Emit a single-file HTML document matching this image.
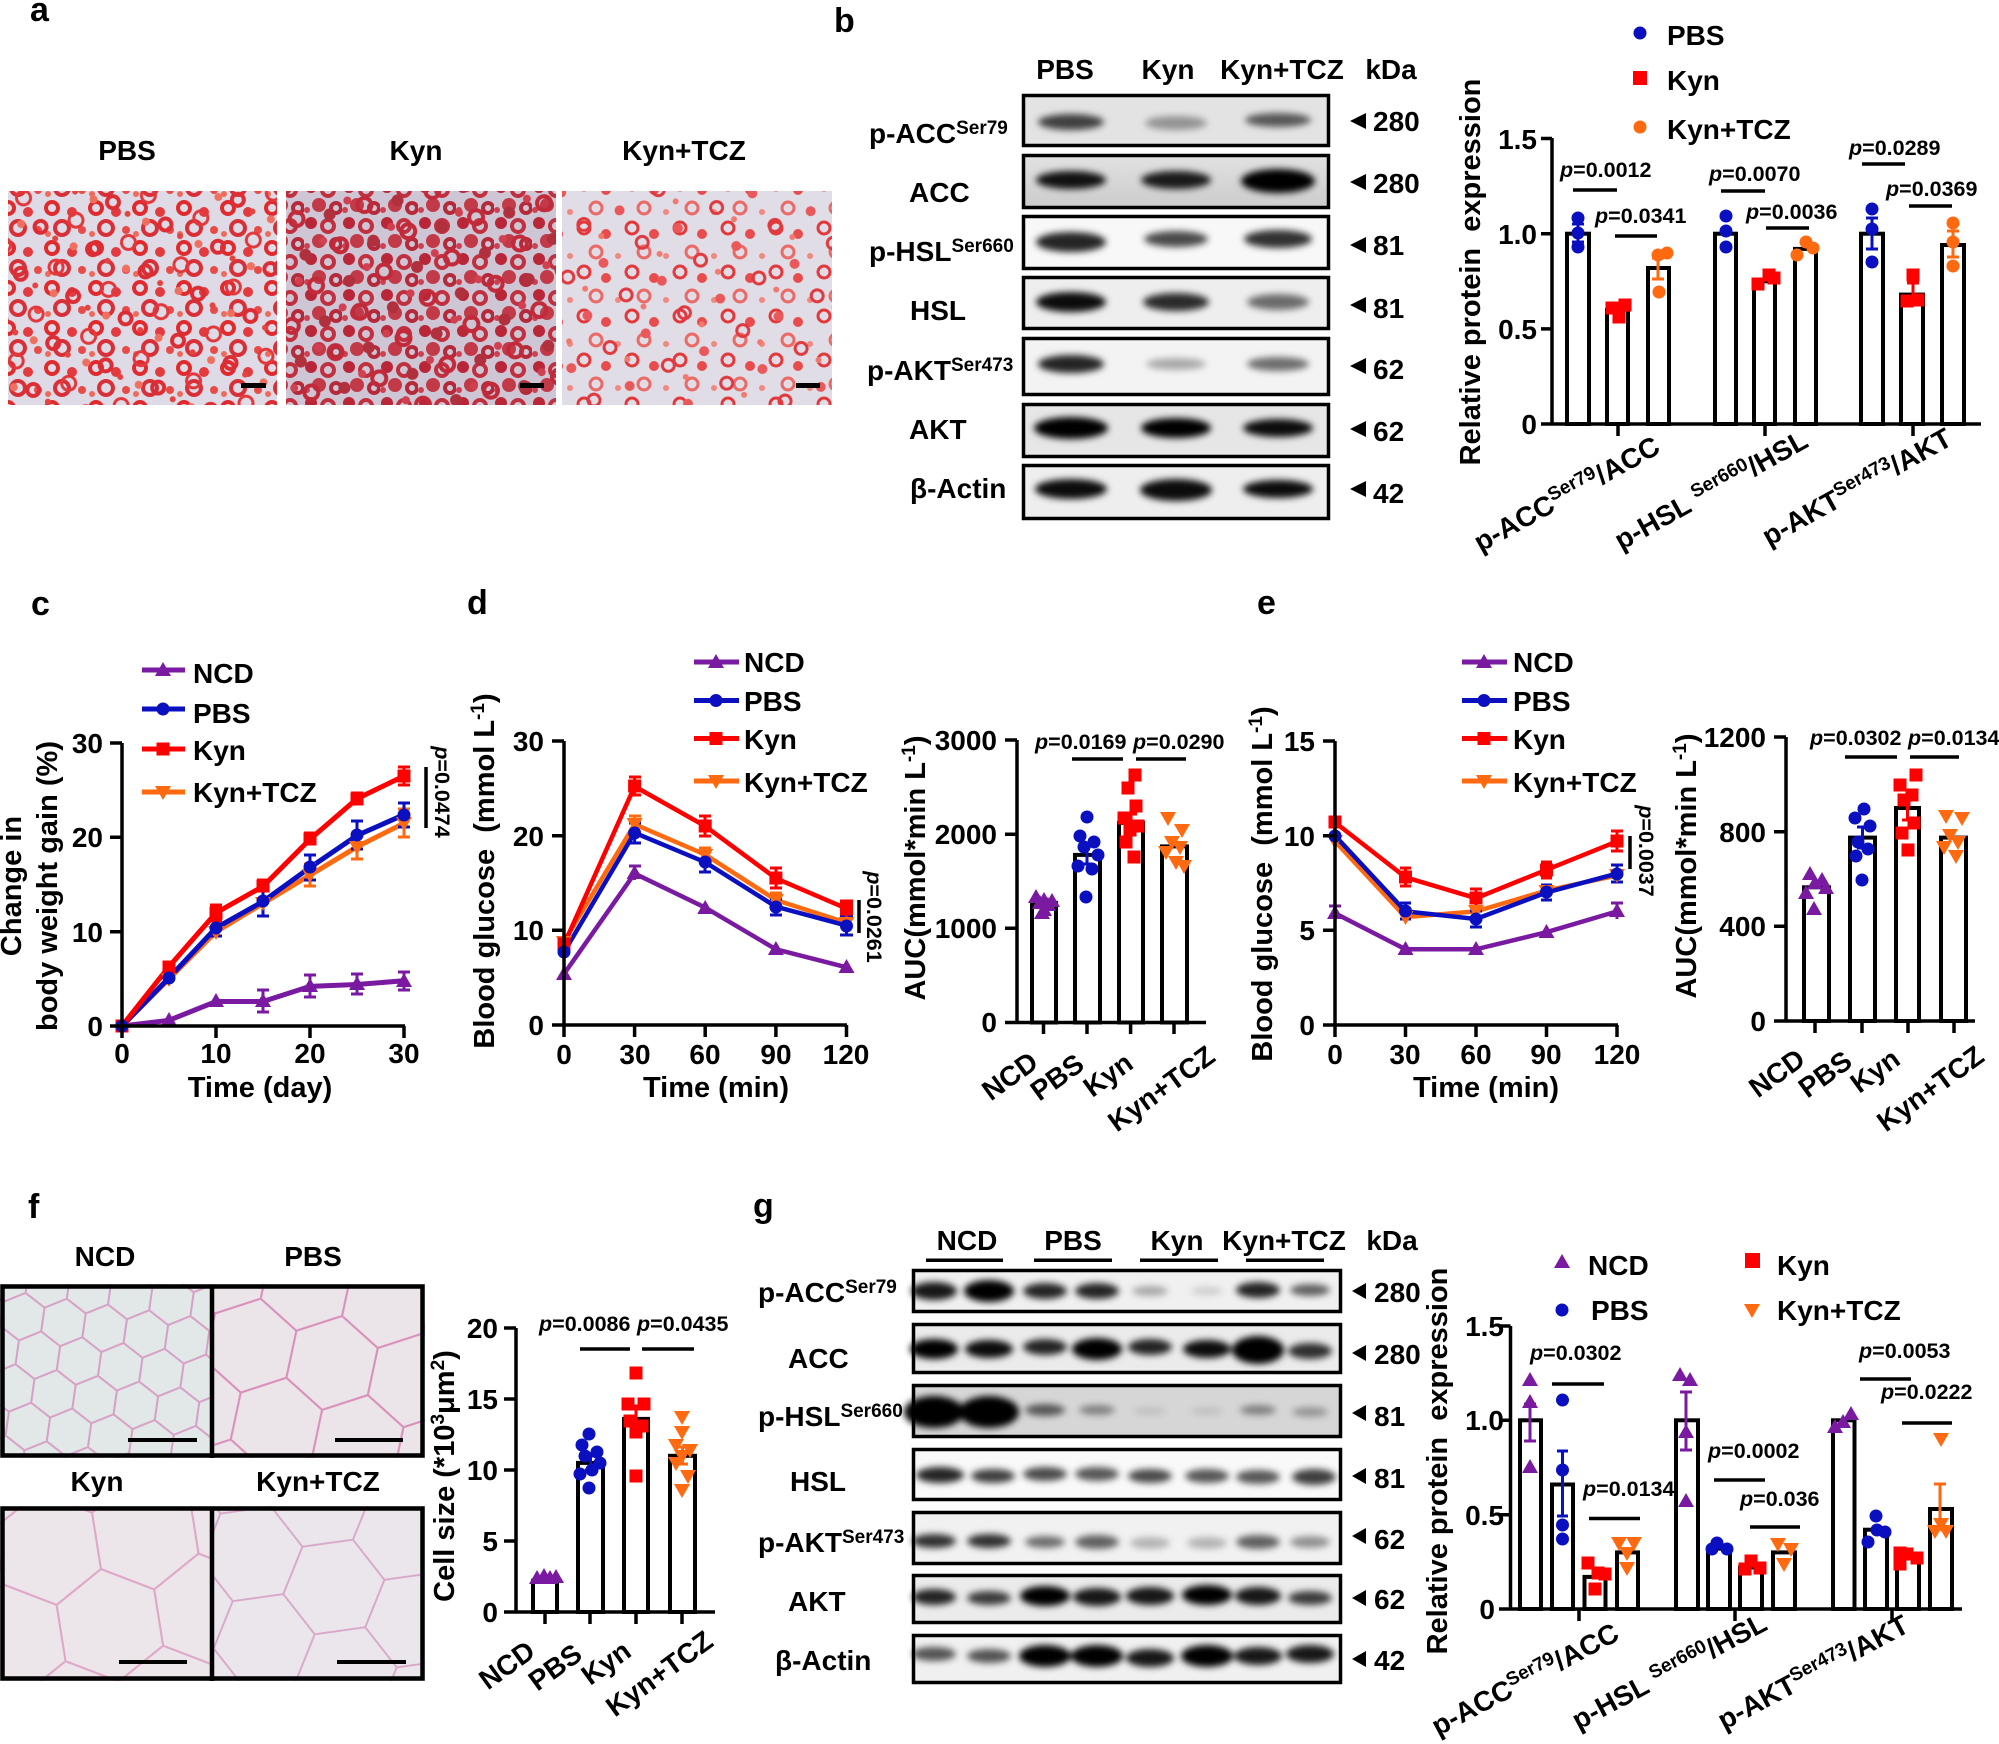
<!DOCTYPE html>
<html><head><meta charset="utf-8"><style>
html,body{margin:0;padding:0;background:#fff;}
svg{display:block;}
text{font-family:"Liberation Sans",Arial,sans-serif;font-weight:bold;fill:#000;}
.ax{fill:none;stroke:#000;stroke-width:3.5;}
.bar{fill:#fff;stroke:#000;stroke-width:4;}
.eb{fill:none;stroke-width:3;}
.sl{stroke:#000;stroke-width:3.5;}
</style></head><body>
<svg width="1999" height="1744" viewBox="0 0 1999 1744" xmlns="http://www.w3.org/2000/svg">
<defs>
<filter id="bl" x="-50%" y="-150%" width="200%" height="400%"><feGaussianBlur stdDeviation="3.5"/></filter>
<path id="tri" d="M0,-8 L8,6 L-8,6Z"/>
<path id="itri" d="M0,8 L8,-6 L-8,-6Z"/>
<rect id="sq" x="-6.5" y="-6.5" width="13" height="13"/>
<circle id="ci" r="6.5"/>
<linearGradient id="g2" x1="0" y1="0" x2="0" y2="1"><stop offset="0" stop-color="#e2e2e2"/><stop offset="1" stop-color="#cbcbcb"/></linearGradient>
<pattern id="pa1" width="44" height="40" patternUnits="userSpaceOnUse">
<circle cx="8" cy="8" r="6" fill="none" stroke="#e02a2e" stroke-width="4"/>
<circle cx="28" cy="12" r="5" fill="#e23a3e"/>
<circle cx="18" cy="28" r="7" fill="none" stroke="#d83038" stroke-width="4"/>
<circle cx="38" cy="30" r="4" fill="#e84a48"/>
<circle cx="4" cy="34" r="3" fill="#ee6a5a"/>
</pattern>
<pattern id="pa2" width="57" height="51" patternUnits="userSpaceOnUse" patternTransform="rotate(23)">
<circle cx="12" cy="40" r="6" fill="none" stroke="#dc2c34" stroke-width="4"/>
<circle cx="42" cy="20" r="7" fill="none" stroke="#e2383c" stroke-width="3"/>
<circle cx="30" cy="45" r="3" fill="#e34440"/>
<circle cx="50" cy="45" r="4" fill="#f07060"/>
</pattern>
<pattern id="pk1" width="38" height="36" patternUnits="userSpaceOnUse">
<circle cx="7" cy="7" r="6" fill="#b82638"/>
<circle cx="24" cy="10" r="6" fill="none" stroke="#c0303f" stroke-width="4"/>
<circle cx="15" cy="25" r="7" fill="#c23a48"/>
<circle cx="32" cy="28" r="5" fill="none" stroke="#b52a3a" stroke-width="4"/>
<circle cx="3" cy="30" r="3" fill="#cc4050"/>
</pattern>
<pattern id="pk2" width="51" height="47" patternUnits="userSpaceOnUse" patternTransform="rotate(31)">
<circle cx="10" cy="35" r="7" fill="none" stroke="#c22a3a" stroke-width="4"/>
<circle cx="36" cy="14" r="6" fill="#b0303e"/>
<circle cx="44" cy="40" r="4" fill="#d04050"/>
</pattern>
<pattern id="pt1" width="48" height="44" patternUnits="userSpaceOnUse">
<circle cx="8" cy="8" r="6" fill="none" stroke="#e23a3c" stroke-width="3"/>
<circle cx="30" cy="14" r="5" fill="#e84c4c"/>
<circle cx="20" cy="32" r="6" fill="none" stroke="#ea6a66" stroke-width="3"/>
<circle cx="42" cy="36" r="3" fill="#f08a80"/>
</pattern>
<pattern id="pt2" width="61" height="55" patternUnits="userSpaceOnUse" patternTransform="rotate(17)">
<circle cx="14" cy="44" r="6" fill="none" stroke="#df3a3f" stroke-width="3"/>
<circle cx="44" cy="20" r="5" fill="#e9585a"/>
<circle cx="34" cy="50" r="3" fill="#f07a70"/>
</pattern>
<pattern id="hexN" width="52" height="90" patternUnits="userSpaceOnUse" patternTransform="translate(5,1290) scale(0.8) rotate(8)">
<rect width="52" height="90" fill="#e2e8e8"/>
<path d="M26,0 L52,15 L52,45 L26,60 L0,45 L0,15 Z M26,60 L26,90" fill="none" stroke="#d6a0c4" stroke-width="2.5"/>
</pattern>
<pattern id="hexP" width="52" height="90" patternUnits="userSpaceOnUse" patternTransform="translate(220,1290) scale(1.6) rotate(12)">
<rect width="52" height="90" fill="#ebe5e9"/>
<path d="M26,0 L52,15 L52,45 L26,60 L0,45 L0,15 Z M26,60 L26,90" fill="none" stroke="#d98fb8" stroke-width="1.3"/>
</pattern>
<pattern id="hexK" width="52" height="90" patternUnits="userSpaceOnUse" patternTransform="translate(-10,1500) scale(1.9) rotate(-9)">
<rect width="52" height="90" fill="#ece6ea"/>
<path d="M26,0 L52,15 L52,45 L26,60 L0,45 L0,15 Z M26,60 L26,90" fill="none" stroke="#dfa6c6" stroke-width="1.1"/>
</pattern>
<pattern id="hexT" width="52" height="90" patternUnits="userSpaceOnUse" patternTransform="translate(230,1490) scale(1.7) rotate(22)">
<rect width="52" height="90" fill="#eae6ec"/>
<path d="M26,0 L52,15 L52,45 L26,60 L0,45 L0,15 Z M26,60 L26,90" fill="none" stroke="#d8a6c8" stroke-width="1.1"/>
</pattern>
</defs>

<!-- ============ PANEL A ============ -->
<text x="30" y="21" font-size="34">a</text>
<text x="127" y="160" font-size="28" text-anchor="middle">PBS</text>
<text x="416" y="160" font-size="28" text-anchor="middle">Kyn</text>
<text x="684" y="160" font-size="28" text-anchor="middle">Kyn+TCZ</text>
<rect x="8" y="191" width="269" height="214" fill="#dedbe6"/>
<rect x="8" y="191" width="269" height="214" fill="url(#pa1)"/>
<rect x="8" y="191" width="269" height="214" fill="url(#pa2)"/>
<rect x="286" y="191" width="270" height="214" fill="#cec6d4"/>
<rect x="286" y="191" width="270" height="214" fill="url(#pk1)"/>
<rect x="286" y="191" width="270" height="214" fill="url(#pk2)"/>
<rect x="562" y="191" width="270" height="214" fill="#e0dde7"/>
<rect x="562" y="191" width="270" height="214" fill="url(#pt1)"/>
<rect x="562" y="191" width="270" height="214" fill="url(#pt2)"/>
<rect x="241" y="383" width="25" height="5" fill="#000"/>
<rect x="520" y="383" width="24" height="5" fill="#000"/>
<rect x="796" y="383" width="24" height="5" fill="#000"/>

<!-- ============ PANEL B blot ============ -->
<text x="834" y="32" font-size="34">b</text>
<text x="1065" y="79" font-size="28" text-anchor="middle">PBS</text>
<text x="1168" y="79" font-size="28" text-anchor="middle">Kyn</text>
<text x="1282" y="79" font-size="28" text-anchor="middle">Kyn+TCZ</text>
<text x="1391" y="79" font-size="28" text-anchor="middle">kDa</text>

<rect x="1022" y="94" width="308" height="53" fill="#e3e3e3"/>
<rect x="1022" y="154" width="308" height="55" fill="url(#g2)"/>
<rect x="1022" y="215" width="308" height="55" fill="#f8f8f8"/>
<rect x="1022" y="276" width="308" height="54" fill="#eeeeee"/>
<rect x="1022" y="337" width="308" height="59" fill="#f3f3f3"/>
<rect x="1022" y="403" width="308" height="55" fill="#e6e6e6"/>
<rect x="1022" y="464" width="308" height="56" fill="#eeeeee"/>
<g filter="url(#bl)" fill="#000">
<ellipse cx="1071" cy="122" rx="33" ry="8" fill-opacity=".72"/>
<ellipse cx="1176" cy="123" rx="31" ry="7" fill-opacity=".35"/>
<ellipse cx="1278" cy="120" rx="33" ry="7" fill-opacity=".62"/>
<ellipse cx="1071" cy="180" rx="35" ry="9" fill-opacity=".92"/>
<ellipse cx="1176" cy="180" rx="35" ry="9" fill-opacity=".88"/>
<ellipse cx="1278" cy="181" rx="37" ry="12" fill-opacity="1"/>
<ellipse cx="1071" cy="242" rx="35" ry="10" fill-opacity=".85"/>
<ellipse cx="1176" cy="239" rx="32" ry="8" fill-opacity=".7"/>
<ellipse cx="1278" cy="239" rx="34" ry="9" fill-opacity=".8"/>
<ellipse cx="1071" cy="302" rx="35" ry="10" fill-opacity=".95"/>
<ellipse cx="1176" cy="302" rx="33" ry="9" fill-opacity=".82"/>
<ellipse cx="1278" cy="302" rx="31" ry="8" fill-opacity=".55"/>
<ellipse cx="1071" cy="364" rx="33" ry="9" fill-opacity=".85"/>
<ellipse cx="1176" cy="364" rx="30" ry="6" fill-opacity=".3"/>
<ellipse cx="1278" cy="364" rx="31" ry="7" fill-opacity=".55"/>
<ellipse cx="1071" cy="428" rx="37" ry="11" fill-opacity="1"/>
<ellipse cx="1176" cy="428" rx="35" ry="10" fill-opacity="1"/>
<ellipse cx="1278" cy="428" rx="35" ry="9" fill-opacity=".95"/>
<ellipse cx="1071" cy="489" rx="36" ry="10" fill-opacity=".95"/>
<ellipse cx="1176" cy="490" rx="36" ry="11" fill-opacity=".95"/>
<ellipse cx="1278" cy="489" rx="35" ry="9" fill-opacity=".95"/>
</g>
<g fill="none" stroke="#000" stroke-width="3.5">
<rect x="1023.5" y="95.5" width="305" height="50"/>
<rect x="1023.5" y="155.5" width="305" height="52"/>
<rect x="1023.5" y="216.5" width="305" height="52"/>
<rect x="1023.5" y="277.5" width="305" height="51"/>
<rect x="1023.5" y="338.5" width="305" height="56"/>
<rect x="1023.5" y="404.5" width="305" height="52"/>
<rect x="1023.5" y="465.5" width="305" height="53"/>
</g>
<g font-size="28">
<text x="869" y="143">p-ACC<tspan font-size="19" dy="-9">Ser79</tspan></text>
<text x="909" y="202">ACC</text>
<text x="869" y="261">p-HSL<tspan font-size="19" dy="-9">Ser660</tspan></text>
<text x="910" y="320">HSL</text>
<text x="867" y="380">p-AKT<tspan font-size="19" dy="-9">Ser473</tspan></text>
<text x="909" y="439">AKT</text>
<text x="910" y="498">β-Actin</text>
<text x="1373" y="131">280</text>
<text x="1373" y="193">280</text>
<text x="1373" y="255">81</text>
<text x="1373" y="318">81</text>
<text x="1373" y="379">62</text>
<text x="1373" y="441">62</text>
<text x="1373" y="503">42</text>
</g>
<g fill="#000">
<path d="M1350,121 L1366,113 L1366,129Z"/>
<path d="M1350,182 L1366,174 L1366,190Z"/>
<path d="M1350,245 L1366,237 L1366,253Z"/>
<path d="M1350,305 L1366,297 L1366,313Z"/>
<path d="M1350,366 L1366,358 L1366,374Z"/>
<path d="M1350,429 L1366,421 L1366,437Z"/>
<path d="M1350,489 L1366,481 L1366,497Z"/>
</g>

<!-- ============ PANEL B chart ============ -->
<use href="#ci" x="1640" y="33" fill="#0a10bf"/>
<rect x="1633" y="71" width="14" height="14" fill="#ff0000"/>
<use href="#ci" x="1640" y="127" fill="#ff6a10"/>
<text x="1667" y="45" font-size="28">PBS</text>
<text x="1667" y="90" font-size="28">Kyn</text>
<text x="1667" y="139" font-size="28">Kyn+TCZ</text>
<text transform="translate(1480,272) rotate(-90)" text-anchor="middle" font-size="29" style="white-space:pre">Relative protein  expression</text>
<g font-size="28" text-anchor="end">
<text x="1537" y="149">1.5</text><text x="1537" y="244">1.0</text><text x="1537" y="339">0.5</text><text x="1537" y="434">0</text>
</g>
<rect class="bar" x="1567" y="233.7" width="22" height="190.3"/>
<rect class="bar" x="1607" y="309.8" width="21" height="114.2"/>
<rect class="bar" x="1648" y="268" width="21" height="156"/>
<rect class="bar" x="1715" y="233.7" width="21" height="190.3"/>
<rect class="bar" x="1754" y="281.3" width="21" height="142.7"/>
<rect class="bar" x="1795" y="248.9" width="21" height="175.1"/>
<rect class="bar" x="1861" y="233.7" width="22" height="190.3"/>
<rect class="bar" x="1901" y="294.6" width="22" height="129.4"/>
<rect class="bar" x="1942" y="245" width="22" height="179"/>
<path class="ax" d="M1552,138 V424 H1981 M1541,138.5H1552 M1541,233.7H1552 M1541,328.9H1552 M1541,424H1552 M1618,424V436 M1765,424V436 M1913,424V436"/>
<g fill="#0a10bf"><use href="#ci" x="1578" y="218"/><use href="#ci" x="1578" y="233"/><use href="#ci" x="1578" y="247"/>
<use href="#ci" x="1726" y="216"/><use href="#ci" x="1726" y="231"/><use href="#ci" x="1726" y="247"/>
<use href="#ci" x="1872" y="209"/><use href="#ci" x="1872" y="229"/><use href="#ci" x="1872" y="262"/></g>
<g fill="#ff0000"><use href="#sq" x="1612" y="308"/><use href="#sq" x="1625" y="305"/><use href="#sq" x="1619" y="317"/>
<use href="#sq" x="1758" y="284"/><use href="#sq" x="1769" y="275"/><use href="#sq" x="1774" y="278"/>
<use href="#sq" x="1913" y="275"/><use href="#sq" x="1907" y="301"/><use href="#sq" x="1918" y="300"/></g>
<g fill="#ff6a10"><use href="#ci" x="1658" y="255"/><use href="#ci" x="1667" y="253"/><use href="#ci" x="1659" y="292"/>
<use href="#ci" x="1797" y="255"/><use href="#ci" x="1806" y="242"/><use href="#ci" x="1813" y="248"/>
<use href="#ci" x="1953" y="223"/><use href="#ci" x="1953" y="242"/><use href="#ci" x="1953" y="266"/></g>
<path class="eb" stroke="#0a10bf" d="M1578,224V242M1572,224H1584M1572,242H1584 M1872,218V249M1866,218H1878M1866,249H1878"/>
<path class="eb" stroke="#ff0000" d="M1913,283V301M1907,283H1919"/>
<path class="eb" stroke="#ff6a10" d="M1658,258V279M1652,258H1664M1652,279H1664 M1953,231V257M1947,231H1959M1947,257H1959"/>
<g font-size="21.5">
<text x="1560" y="177"><tspan font-style="italic">p</tspan>=0.0012</text>
<text x="1595" y="223"><tspan font-style="italic">p</tspan>=0.0341</text>
<text x="1709" y="181"><tspan font-style="italic">p</tspan>=0.0070</text>
<text x="1746" y="219"><tspan font-style="italic">p</tspan>=0.0036</text>
<text x="1849" y="155"><tspan font-style="italic">p</tspan>=0.0289</text>
<text x="1886" y="196"><tspan font-style="italic">p</tspan>=0.0369</text>
</g>
<path class="sl" d="M1573,190H1617 M1615,236H1657 M1721,191H1765 M1766,228H1809 M1862,164H1905 M1909,206H1952"/>
<g font-size="28" text-anchor="end">
<text transform="translate(1662,452) rotate(-29)">p-ACC<tspan font-size="19" dy="-10">Ser79</tspan><tspan dy="10">/ACC</tspan></text>
<text transform="translate(1810,446) rotate(-29)">p-HSL <tspan font-size="19" dy="-10">Ser660</tspan><tspan dy="10">/HSL</tspan></text>
<text transform="translate(1954,444) rotate(-29)">p-AKT<tspan font-size="19" dy="-10">Ser473</tspan><tspan dy="10">/AKT</tspan></text>
</g>

<!-- ============ PANEL C ============ -->
<text x="31" y="615" font-size="34">c</text>
<text transform="translate(21,886) rotate(-90)" text-anchor="middle" font-size="29">Change in</text>
<text transform="translate(57,886) rotate(-90)" text-anchor="middle" font-size="29">body weight gain (%)</text>
<g font-size="28" text-anchor="end"><text x="103" y="753">30</text><text x="103" y="847">20</text><text x="103" y="942">10</text><text x="103" y="1036">0</text></g>
<g font-size="28" text-anchor="middle"><text x="122" y="1063">0</text><text x="216" y="1063">10</text><text x="310" y="1063">20</text><text x="404" y="1063">30</text></g>
<text x="260" y="1097" font-size="29" text-anchor="middle">Time (day)</text>
<g stroke-width="5" fill="none">
<polyline stroke="#ff6a10" points="122,1026 169,978.8 216,931.7 263,903.4 310,875.1 357,846.8 404,823.2"/>
<polyline stroke="#0a10bf" points="122,1026 169,977.9 216,927.9 263,901.5 310,867.5 357,835.5 404,814.7"/>
<polyline stroke="#ff0000" points="122,1026 169,966.6 216,912.8 263,886.4 310,839.2 357,798.7 404,776"/>
<polyline stroke="#7a1aa0" points="122,1026 169,1020.3 216,1001.5 263,1001.5 310,986.4 357,984.5 404,980.7"/>
</g>
<path class="eb" stroke="#ff6a10" d="M310,864V886M304,864H316M304,886H316 M357,835V859M351,835H363M351,859H363 M404,809V837M398,809H410M398,837H410"/>
<path class="eb" stroke="#0a10bf" d="M216,920V936M210,920H222M210,936H222 M263,886V916M257,886H269M257,916H269 M310,855V880M304,855H316M304,880H316 M357,821V849M351,821H363M351,849H363 M404,803V827M398,803H410M398,827H410"/>
<path class="eb" stroke="#ff0000" d="M216,905V921M210,905H222M210,921H222 M263,880V892M257,880H269 M310,833V845M304,833H316 M357,793V805M351,793H363 M404,767V785M398,767H410M398,785H410"/>
<path class="eb" stroke="#7a1aa0" d="M263,990V1012M257,990H269M257,1012H269 M310,975V997M304,975H316M304,997H316 M357,974V994M351,974H363M351,994H363 M404,972V990M398,972H410M398,990H410"/>
<g fill="#ff6a10"><use href="#itri" x="169" y="979"/><use href="#itri" x="216" y="932"/><use href="#itri" x="263" y="903"/><use href="#itri" x="310" y="875"/><use href="#itri" x="357" y="847"/><use href="#itri" x="404" y="823"/></g>
<g fill="#ff0000"><use href="#sq" x="122" y="1026"/><use href="#sq" x="169" y="967"/><use href="#sq" x="216" y="913"/><use href="#sq" x="263" y="886"/><use href="#sq" x="310" y="839"/><use href="#sq" x="357" y="799"/><use href="#sq" x="404" y="776"/></g>
<g fill="#0a10bf"><use href="#ci" x="122" y="1026"/><use href="#ci" x="169" y="978"/><use href="#ci" x="216" y="928"/><use href="#ci" x="263" y="901"/><use href="#ci" x="310" y="867"/><use href="#ci" x="357" y="835"/><use href="#ci" x="404" y="815"/></g>
<g fill="#7a1aa0"><use href="#tri" x="169" y="1020"/><use href="#tri" x="216" y="1001"/><use href="#tri" x="263" y="1001"/><use href="#tri" x="310" y="986"/><use href="#tri" x="357" y="984"/><use href="#tri" x="404" y="981"/></g>
<path class="ax" d="M122,743 V1026 H405 M110,743H122 M110,931.7H122 M110,837.3H122 M110,1026H122 M122,1026V1038 M216,1026V1038 M310,1026V1038 M404,1026V1038"/>
<g stroke-width="5"><path stroke="#7a1aa0" d="M142,670H185"/><path stroke="#0a10bf" d="M142,709H185"/><path stroke="#ff0000" d="M142,749H185"/><path stroke="#ff6a10" d="M142,792H185"/></g>
<use href="#tri" x="163" y="670" fill="#7a1aa0"/><use href="#ci" x="163" y="709" fill="#0a10bf"/><use href="#sq" x="163" y="749" fill="#ff0000"/><use href="#itri" x="163" y="792" fill="#ff6a10"/>
<g font-size="28"><text x="193" y="683">NCD</text><text x="193" y="723">PBS</text><text x="193" y="760">Kyn</text><text x="193" y="802">Kyn+TCZ</text></g>
<path class="sl" d="M426,767V828"/>
<text transform="translate(435,792) rotate(90)" text-anchor="middle" font-size="21.5"><tspan font-style="italic">p</tspan>=0.0474</text>

<!-- ============ PANEL D ============ -->
<text x="467" y="614" font-size="34">d</text>
<text transform="translate(494,871) rotate(-90)" text-anchor="middle" font-size="29" style="white-space:pre">Blood glucose  (mmol L<tspan font-size="19" dy="-10">-1</tspan><tspan dy="10">)</tspan></text>
<g font-size="28" text-anchor="end"><text x="544" y="751">30</text><text x="544" y="846">20</text><text x="544" y="940">10</text><text x="544" y="1035">0</text></g>
<g font-size="28" text-anchor="middle"><text x="564" y="1064">0</text><text x="635" y="1064">30</text><text x="705" y="1064">60</text><text x="776" y="1064">90</text><text x="846" y="1064">120</text></g>
<text x="716" y="1097" font-size="29" text-anchor="middle">Time (min)</text>
<g stroke-width="4.5" fill="none">
<polyline stroke="#ff6a10" points="564,941.7 634.6,824.3 705.2,854.6 775.9,900 846.5,922.8"/>
<polyline stroke="#0a10bf" points="564,952.1 634.6,832.8 705.2,862.2 775.9,906.7 846.5,925.6"/>
<polyline stroke="#ff0000" points="564,944.5 634.6,786.4 705.2,826.2 775.9,878.3 846.5,908.6"/>
<polyline stroke="#7a1aa0" points="564,973.9 634.6,873.5 705.2,907.6 775.9,949.3 846.5,967.3"/>
</g>
<path class="eb" stroke="#ff6a10" d="M634.6,816V832M629,816H641 M705,848V861M699,848H711 M776,893V907M770,893H782"/>
<path class="eb" stroke="#0a10bf" d="M634.6,823V843M629,823H641M629,843H641 M705,852V872M699,852H711M699,872H711 M776,899V915M770,899H782M770,915H782 M846.5,917V935M840,917H853M840,935H853"/>
<path class="eb" stroke="#ff0000" d="M634.6,777V795M629,777H641M629,795H641 M705,816V836M699,816H711M699,836H711 M776,868V888M770,868H782M770,888H782 M846.5,901V917M840,901H853"/>
<path class="eb" stroke="#7a1aa0" d="M634.6,866V880M629,866H641"/>
<g fill="#ff6a10"><use href="#itri" x="564" y="942"/><use href="#itri" x="634.6" y="824"/><use href="#itri" x="705.2" y="855"/><use href="#itri" x="775.9" y="900"/><use href="#itri" x="846.5" y="923"/></g>
<g fill="#ff0000"><use href="#sq" x="564" y="944"/><use href="#sq" x="634.6" y="786"/><use href="#sq" x="705.2" y="826"/><use href="#sq" x="775.9" y="878"/><use href="#sq" x="846.5" y="909"/></g>
<g fill="#0a10bf"><use href="#ci" x="564" y="952"/><use href="#ci" x="634.6" y="833"/><use href="#ci" x="705.2" y="862"/><use href="#ci" x="775.9" y="907"/><use href="#ci" x="846.5" y="926"/></g>
<g fill="#7a1aa0"><use href="#tri" x="564" y="974"/><use href="#tri" x="634.6" y="873"/><use href="#tri" x="705.2" y="908"/><use href="#tri" x="775.9" y="949"/><use href="#tri" x="846.5" y="967"/></g>
<path class="ax" d="M564,741 V1025 H847 M552,741H564 M552,835.7H564 M552,930.3H564 M552,1025H564 M564,1025V1037 M634.6,1025V1037 M705.2,1025V1037 M775.9,1025V1037 M846.5,1025V1037"/>
<g stroke-width="5"><path stroke="#7a1aa0" d="M694,662H739"/><path stroke="#0a10bf" d="M694,700.5H739"/><path stroke="#ff0000" d="M694,738.5H739"/><path stroke="#ff6a10" d="M694,781H739"/></g>
<use href="#tri" x="716" y="662" fill="#7a1aa0"/><use href="#ci" x="716" y="700.5" fill="#0a10bf"/><use href="#sq" x="716" y="738.5" fill="#ff0000"/><use href="#itri" x="716" y="781" fill="#ff6a10"/>
<g font-size="28"><text x="744" y="672">NCD</text><text x="744" y="711">PBS</text><text x="744" y="749">Kyn</text><text x="744" y="792">Kyn+TCZ</text></g>
<path class="sl" d="M859,900V933"/>
<text transform="translate(867,917) rotate(90)" text-anchor="middle" font-size="21.5"><tspan font-style="italic">p</tspan>=0.0261</text>

<!-- D AUC -->
<text transform="translate(925,868) rotate(-90)" text-anchor="middle" font-size="29">AUC(mmol*min L<tspan font-size="19" dy="-10">-1</tspan><tspan dy="10">)</tspan></text>
<g font-size="28" text-anchor="end"><text x="997" y="750">3000</text><text x="997" y="844">2000</text><text x="997" y="938">1000</text><text x="997" y="1032">0</text></g>
<rect class="bar" x="1032" y="902.9" width="24" height="119.6"/>
<rect class="bar" x="1075" y="854.9" width="25" height="167.6"/>
<rect class="bar" x="1119" y="822.9" width="24" height="199.6"/>
<rect class="bar" x="1162" y="846.4" width="25" height="176.1"/>
<path class="ax" d="M1017,740 V1022.5 H1206 M1005,740H1017 M1005,834.3H1017 M1005,928.3H1017 M1005,1022.5H1017 M1043.5,1022.5V1034 M1087,1022.5V1034 M1130.6,1022.5V1034 M1174,1022.5V1034"/>
<g fill="#7a1aa0"><use href="#tri" x="1036" y="897"/><use href="#tri" x="1044" y="900"/><use href="#tri" x="1052" y="901"/><use href="#tri" x="1040" y="903"/><use href="#tri" x="1048" y="905"/><use href="#tri" x="1044" y="910"/><use href="#tri" x="1042" y="913"/></g>
<g fill="#0a10bf"><use href="#ci" x="1087" y="817"/><use href="#ci" x="1080" y="836"/><use href="#ci" x="1094" y="842"/><use href="#ci" x="1084" y="847"/><use href="#ci" x="1098" y="855"/><use href="#ci" x="1078" y="866"/><use href="#ci" x="1092" y="869"/><use href="#ci" x="1086" y="897"/></g>
<g fill="#ff0000"><use href="#sq" x="1135" y="775"/><use href="#sq" x="1128" y="788"/><use href="#sq" x="1136" y="806"/><use href="#sq" x="1124" y="818"/><use href="#sq" x="1138" y="826"/><use href="#sq" x="1130" y="830"/><use href="#sq" x="1126" y="842"/><use href="#sq" x="1134" y="857"/></g>
<g fill="#ff6a10"><use href="#itri" x="1168" y="818"/><use href="#itri" x="1182" y="830"/><use href="#itri" x="1172" y="842"/><use href="#itri" x="1180" y="847"/><use href="#itri" x="1166" y="852"/><use href="#itri" x="1176" y="862"/><use href="#itri" x="1184" y="866"/></g>
<path class="eb" stroke="#0a10bf" d="M1087,845V864M1081,845H1093M1081,864H1093"/>
<path class="eb" stroke="#ff0000" d="M1131,814V831M1125,814H1137M1125,831H1137"/>
<g font-size="21.5"><text x="1035" y="749"><tspan font-style="italic">p</tspan>=0.0169</text><text x="1133" y="749"><tspan font-style="italic">p</tspan>=0.0290</text></g>
<path class="sl" d="M1072,759H1123 M1136,759H1186"/>
<g font-size="28" text-anchor="end">
<text transform="translate(1040,1066) rotate(-36)">NCD</text>
<text transform="translate(1086,1068) rotate(-36)">PBS</text>
<text transform="translate(1135,1067) rotate(-36)">Kyn</text>
<text transform="translate(1217,1060) rotate(-36)">Kyn+TCZ</text>
</g>

<!-- ============ PANEL E ============ -->
<text x="1257" y="614" font-size="34">e</text>
<text transform="translate(1272,884) rotate(-90)" text-anchor="middle" font-size="29" style="white-space:pre">Blood glucose  (mmol L<tspan font-size="19" dy="-10">-1</tspan><tspan dy="10">)</tspan></text>
<g font-size="28" text-anchor="end"><text x="1315" y="751">15</text><text x="1315" y="846">10</text><text x="1315" y="940">5</text><text x="1315" y="1035">0</text></g>
<g font-size="28" text-anchor="middle"><text x="1335" y="1064">0</text><text x="1405" y="1064">30</text><text x="1476" y="1064">60</text><text x="1546" y="1064">90</text><text x="1617" y="1064">120</text></g>
<text x="1486" y="1097" font-size="29" text-anchor="middle">Time (min)</text>
<g stroke-width="4.5" fill="none">
<polyline stroke="#ff6a10" points="1335,841.4 1405.5,917.1 1476,911.4 1546.5,890.6 1617,875.4"/>
<polyline stroke="#0a10bf" points="1335,835.7 1405.5,911.4 1476,919 1546.5,892.5 1617,873.6"/>
<polyline stroke="#ff0000" points="1335,822.4 1405.5,877.3 1476,898.2 1546.5,869.8 1617,841.4"/>
<polyline stroke="#7a1aa0" points="1335,913.3 1405.5,949.3 1476,949.3 1546.5,932.2 1617,911.4"/>
</g>
<path class="eb" stroke="#0a10bf" d="M1405.5,903V919M1400,903H1411M1400,919H1411 M1476,911V927M1470,911H1482M1470,927H1482 M1546.5,885V900M1541,885H1552M1541,900H1552 M1617,865V882M1611,865H1623M1611,882H1623"/>
<path class="eb" stroke="#ff0000" d="M1405.5,868V886M1400,868H1411M1400,886H1411 M1476,889V907M1470,889H1482M1470,907H1482 M1546.5,862V878M1541,862H1552M1541,878H1552 M1617,831V851M1611,831H1623M1611,851H1623"/>
<path class="eb" stroke="#7a1aa0" d="M1335,906V920M1329,906H1341 M1617,903V919M1611,903H1623"/>
<g fill="#ff6a10"><use href="#itri" x="1335" y="841"/><use href="#itri" x="1405.5" y="917"/><use href="#itri" x="1476" y="911"/><use href="#itri" x="1546.5" y="891"/><use href="#itri" x="1617" y="875"/></g>
<g fill="#ff0000"><use href="#sq" x="1335" y="822"/><use href="#sq" x="1405.5" y="877"/><use href="#sq" x="1476" y="898"/><use href="#sq" x="1546.5" y="870"/><use href="#sq" x="1617" y="841"/></g>
<g fill="#0a10bf"><use href="#ci" x="1335" y="836"/><use href="#ci" x="1405.5" y="911"/><use href="#ci" x="1476" y="919"/><use href="#ci" x="1546.5" y="892"/><use href="#ci" x="1617" y="874"/></g>
<g fill="#7a1aa0"><use href="#tri" x="1335" y="913"/><use href="#tri" x="1405.5" y="949"/><use href="#tri" x="1476" y="949"/><use href="#tri" x="1546.5" y="932"/><use href="#tri" x="1617" y="911"/></g>
<path class="ax" d="M1335,741 V1025 H1618 M1323,741H1335 M1323,835.7H1335 M1323,930.3H1335 M1323,1025H1335 M1335,1025V1037 M1405.5,1025V1037 M1476,1025V1037 M1546.5,1025V1037 M1617,1025V1037"/>
<g stroke-width="5"><path stroke="#7a1aa0" d="M1462,662H1507"/><path stroke="#0a10bf" d="M1462,700.5H1507"/><path stroke="#ff0000" d="M1462,738.5H1507"/><path stroke="#ff6a10" d="M1462,781H1507"/></g>
<use href="#tri" x="1484" y="662" fill="#7a1aa0"/><use href="#ci" x="1484" y="700.5" fill="#0a10bf"/><use href="#sq" x="1484" y="738.5" fill="#ff0000"/><use href="#itri" x="1484" y="781" fill="#ff6a10"/>
<g font-size="28"><text x="1513" y="672">NCD</text><text x="1513" y="711">PBS</text><text x="1513" y="749">Kyn</text><text x="1513" y="792">Kyn+TCZ</text></g>
<path class="sl" d="M1630,836V869"/>
<text transform="translate(1639,851) rotate(90)" text-anchor="middle" font-size="21.5"><tspan font-style="italic">p</tspan>=0.0037</text>

<!-- E AUC -->
<text transform="translate(1696,866) rotate(-90)" text-anchor="middle" font-size="29">AUC(mmol*min L<tspan font-size="19" dy="-10">-1</tspan><tspan dy="10">)</tspan></text>
<g font-size="28" text-anchor="end"><text x="1766" y="747">1200</text><text x="1766" y="842">800</text><text x="1766" y="936">400</text><text x="1766" y="1031">0</text></g>
<rect class="bar" x="1804" y="887.3" width="25" height="133.7"/>
<rect class="bar" x="1850" y="837.6" width="25" height="183.4"/>
<rect class="bar" x="1896" y="808" width="23" height="213"/>
<rect class="bar" x="1941" y="837.6" width="25" height="183.4"/>
<path class="ax" d="M1786,737 V1021 H1975 M1774,737H1786 M1774,831.7H1786 M1774,926.3H1786 M1774,1021H1786 M1815,1021V1033 M1862,1021V1033 M1908,1021V1033 M1954,1021V1033"/>
<g fill="#7a1aa0"><use href="#tri" x="1810" y="874"/><use href="#tri" x="1822" y="880"/><use href="#tri" x="1815" y="883"/><use href="#tri" x="1826" y="888"/><use href="#tri" x="1806" y="893"/><use href="#tri" x="1814" y="909"/></g>
<g fill="#0a10bf"><use href="#ci" x="1864" y="809"/><use href="#ci" x="1855" y="818"/><use href="#ci" x="1870" y="826"/><use href="#ci" x="1858" y="842"/><use href="#ci" x="1868" y="849"/><use href="#ci" x="1856" y="856"/><use href="#ci" x="1862" y="880"/></g>
<g fill="#ff0000"><use href="#sq" x="1916" y="775"/><use href="#sq" x="1900" y="785"/><use href="#sq" x="1912" y="795"/><use href="#sq" x="1904" y="800"/><use href="#sq" x="1914" y="823"/><use href="#sq" x="1902" y="833"/><use href="#sq" x="1908" y="850"/></g>
<g fill="#ff6a10"><use href="#itri" x="1946" y="816"/><use href="#itri" x="1962" y="818"/><use href="#itri" x="1950" y="835"/><use href="#itri" x="1958" y="842"/><use href="#itri" x="1944" y="847"/><use href="#itri" x="1956" y="856"/></g>
<path class="eb" stroke="#0a10bf" d="M1862.5,827V848M1857,827H1868M1857,848H1868"/>
<path class="eb" stroke="#ff0000" d="M1907.5,796V820M1902,796H1913M1902,820H1913"/>
<g font-size="21.5"><text x="1810" y="745"><tspan font-style="italic">p</tspan>=0.0302</text><text x="1908" y="745"><tspan font-style="italic">p</tspan>=0.0134</text></g>
<path class="sl" d="M1845,757H1897 M1910,757H1959"/>
<g font-size="28" text-anchor="end">
<text transform="translate(1807,1063) rotate(-36)">NCD</text>
<text transform="translate(1854,1065) rotate(-36)">PBS</text>
<text transform="translate(1902,1063) rotate(-36)">Kyn</text>
<text transform="translate(1986,1060) rotate(-36)">Kyn+TCZ</text>
</g>

<!-- ============ PANEL F ============ -->
<text x="28" y="1218" font-size="34">f</text>
<g font-size="28" text-anchor="middle"><text x="105" y="1266">NCD</text><text x="313" y="1266">PBS</text><text x="97" y="1491">Kyn</text><text x="318" y="1491">Kyn+TCZ</text></g>
<rect x="0" y="1284" width="212" height="174" fill="url(#hexN)"/>
<rect x="212" y="1284" width="213" height="174" fill="url(#hexP)"/>
<rect x="0" y="1506" width="212" height="175" fill="url(#hexK)"/>
<rect x="212" y="1506" width="213" height="175" fill="url(#hexT)"/>
<g fill="none" stroke="#000" stroke-width="4.5">
<rect x="2.5" y="1286.5" width="420" height="169"/><path d="M212,1286V1458"/>
<rect x="2.5" y="1508.5" width="420" height="170"/><path d="M212,1508V1681"/>
</g>
<g fill="#000"><rect x="128" y="1438" width="69" height="4"/><rect x="335" y="1438" width="68" height="4"/><rect x="119" y="1660" width="68" height="4"/><rect x="337" y="1660" width="69" height="4"/></g>
<text transform="translate(454,1476) rotate(-90)" text-anchor="middle" font-size="29">Cell size (*10<tspan font-size="19" dy="-10">3</tspan><tspan dy="10">μm</tspan><tspan font-size="19" dy="-10">2</tspan><tspan dy="10">)</tspan></text>
<g font-size="28" text-anchor="end"><text x="498" y="1338">20</text><text x="498" y="1409">15</text><text x="498" y="1480">10</text><text x="498" y="1551">5</text><text x="498" y="1622">0</text></g>
<rect class="bar" x="533" y="1580.8" width="24" height="31.2"/>
<rect class="bar" x="578" y="1462.9" width="25" height="149.1"/>
<rect class="bar" x="624" y="1418.9" width="24" height="193.1"/>
<rect class="bar" x="670" y="1455.8" width="25" height="156.2"/>
<path class="ax" d="M516,1328 V1612 H715 M504,1328H516 M504,1399H516 M504,1470H516 M504,1541H516 M504,1612H516 M545,1612V1624 M590,1612V1624 M636,1612V1624 M682,1612V1624"/>
<g fill="#7a1aa0"><use href="#tri" x="537" y="1578"/><use href="#tri" x="544" y="1576"/><use href="#tri" x="550" y="1578"/><use href="#tri" x="556" y="1577"/></g>
<g fill="#0a10bf"><use href="#ci" x="589" y="1434"/><use href="#ci" x="582" y="1445"/><use href="#ci" x="597" y="1452"/><use href="#ci" x="585" y="1456"/><use href="#ci" x="600" y="1463"/><use href="#ci" x="592" y="1470"/><use href="#ci" x="580" y="1474"/><use href="#ci" x="589" y="1488"/></g>
<g fill="#ff0000"><use href="#sq" x="636" y="1373"/><use href="#sq" x="628" y="1404"/><use href="#sq" x="644" y="1404"/><use href="#sq" x="630" y="1421"/><use href="#sq" x="642" y="1426"/><use href="#sq" x="636" y="1432"/><use href="#sq" x="636" y="1476"/></g>
<g fill="#ff6a10"><use href="#itri" x="682" y="1417"/><use href="#itri" x="682" y="1432"/><use href="#itri" x="676" y="1445"/><use href="#itri" x="690" y="1450"/><use href="#itri" x="682" y="1456"/><use href="#itri" x="676" y="1463"/><use href="#itri" x="688" y="1476"/><use href="#itri" x="682" y="1490"/></g>
<path class="eb" stroke="#0a10bf" d="M590.5,1456V1470M585,1456H596M585,1470H596"/>
<path class="eb" stroke="#ff0000" d="M636,1406V1432M630,1406H642M630,1432H642"/>
<path class="eb" stroke="#ff6a10" d="M682.5,1447V1464M677,1447H688M677,1464H688"/>
<g font-size="21.5"><text x="539" y="1331"><tspan font-style="italic">p</tspan>=0.0086</text><text x="637" y="1331"><tspan font-style="italic">p</tspan>=0.0435</text></g>
<path class="sl" d="M580,1349H630 M642,1349H694"/>
<g font-size="28" text-anchor="end">
<text transform="translate(537,1655) rotate(-36)">NCD</text>
<text transform="translate(584,1658) rotate(-36)">PBS</text>
<text transform="translate(633,1655) rotate(-36)">Kyn</text>
<text transform="translate(715,1645) rotate(-36)">Kyn+TCZ</text>
</g>

<!-- ============ PANEL G blot ============ -->
<text x="753" y="1217" font-size="34">g</text>
<g font-size="28" text-anchor="middle"><text x="967" y="1250">NCD</text><text x="1073" y="1250">PBS</text><text x="1177" y="1250">Kyn</text><text x="1284" y="1250">Kyn+TCZ</text><text x="1392" y="1250">kDa</text></g>
<g fill="#000"><rect x="926" y="1258.5" width="77" height="3.5"/><rect x="1034" y="1258.5" width="78" height="3.5"/><rect x="1140" y="1258.5" width="78" height="3.5"/><rect x="1246" y="1258.5" width="78" height="3.5"/></g>
<rect x="912" y="1269" width="430" height="44" fill="#f0f0f0"/>
<rect x="912" y="1323" width="430" height="51" fill="#ebebeb"/>
<rect x="912" y="1384" width="430" height="54" fill="#d6d6d6"/>
<rect x="912" y="1448" width="430" height="53" fill="#f9f9f9"/>
<rect x="912" y="1511" width="430" height="54" fill="#f1f1f1"/>
<rect x="912" y="1574" width="430" height="50" fill="#ebebeb"/>
<rect x="912" y="1634" width="430" height="50" fill="#f0f0f0"/>
<g filter="url(#bl)" fill="#000">
<ellipse cx="934" cy="1291" rx="23" ry="9" fill-opacity=".9"/><ellipse cx="989" cy="1291" rx="25" ry="11" fill-opacity="1"/><ellipse cx="1045" cy="1291" rx="22" ry="8" fill-opacity=".85"/><ellipse cx="1097" cy="1291" rx="22" ry="8" fill-opacity=".85"/><ellipse cx="1150" cy="1291" rx="18" ry="5" fill-opacity=".3"/><ellipse cx="1207" cy="1291" rx="16" ry="4" fill-opacity=".15"/><ellipse cx="1258" cy="1290" rx="22" ry="8" fill-opacity=".85"/><ellipse cx="1310" cy="1290" rx="20" ry="6" fill-opacity=".6"/>
<ellipse cx="934" cy="1349" rx="24" ry="10" fill-opacity="1"/><ellipse cx="989" cy="1349" rx="24" ry="9" fill-opacity=".95"/><ellipse cx="1045" cy="1347" rx="22" ry="8" fill-opacity=".85"/><ellipse cx="1097" cy="1349" rx="25" ry="11" fill-opacity="1"/><ellipse cx="1150" cy="1347" rx="22" ry="8" fill-opacity=".85"/><ellipse cx="1207" cy="1349" rx="24" ry="9" fill-opacity=".95"/><ellipse cx="1258" cy="1350" rx="26" ry="14" fill-opacity="1"/><ellipse cx="1310" cy="1351" rx="22" ry="8" fill-opacity=".8"/>
<ellipse cx="934" cy="1412" rx="30" ry="16" fill-opacity="1"/><ellipse cx="989" cy="1412" rx="30" ry="16" fill-opacity="1"/><ellipse cx="1045" cy="1410" rx="20" ry="6" fill-opacity=".6"/><ellipse cx="1097" cy="1410" rx="18" ry="5" fill-opacity=".4"/><ellipse cx="1150" cy="1411" rx="16" ry="4" fill-opacity=".1"/><ellipse cx="1207" cy="1411" rx="16" ry="4" fill-opacity=".1"/><ellipse cx="1258" cy="1410" rx="18" ry="5" fill-opacity=".4"/><ellipse cx="1310" cy="1412" rx="18" ry="5" fill-opacity=".3"/>
<ellipse cx="940" cy="1475" rx="24" ry="8" fill-opacity=".85"/><ellipse cx="993" cy="1476" rx="22" ry="7" fill-opacity=".75"/><ellipse cx="1045" cy="1474" rx="22" ry="7" fill-opacity=".7"/><ellipse cx="1097" cy="1474" rx="22" ry="7" fill-opacity=".65"/><ellipse cx="1150" cy="1476" rx="22" ry="7" fill-opacity=".7"/><ellipse cx="1207" cy="1476" rx="22" ry="7" fill-opacity=".65"/><ellipse cx="1258" cy="1477" rx="22" ry="7" fill-opacity=".65"/><ellipse cx="1314" cy="1477" rx="22" ry="8" fill-opacity=".75"/>
<ellipse cx="934" cy="1541" rx="22" ry="7" fill-opacity=".8"/><ellipse cx="989" cy="1541" rx="22" ry="7" fill-opacity=".8"/><ellipse cx="1045" cy="1542" rx="20" ry="6" fill-opacity=".55"/><ellipse cx="1097" cy="1542" rx="22" ry="7" fill-opacity=".6"/><ellipse cx="1150" cy="1543" rx="20" ry="6" fill-opacity=".25"/><ellipse cx="1207" cy="1543" rx="20" ry="6" fill-opacity=".25"/><ellipse cx="1258" cy="1542" rx="22" ry="7" fill-opacity=".6"/><ellipse cx="1310" cy="1542" rx="20" ry="6" fill-opacity=".4"/>
<ellipse cx="934" cy="1597" rx="22" ry="8" fill-opacity=".85"/><ellipse cx="989" cy="1598" rx="22" ry="7" fill-opacity=".75"/><ellipse cx="1045" cy="1596" rx="25" ry="10" fill-opacity="1"/><ellipse cx="1097" cy="1597" rx="24" ry="9" fill-opacity=".9"/><ellipse cx="1150" cy="1596" rx="24" ry="9" fill-opacity=".9"/><ellipse cx="1207" cy="1595" rx="25" ry="10" fill-opacity="1"/><ellipse cx="1258" cy="1596" rx="23" ry="9" fill-opacity=".9"/><ellipse cx="1310" cy="1598" rx="22" ry="7" fill-opacity=".75"/>
<ellipse cx="934" cy="1654" rx="22" ry="7" fill-opacity=".65"/><ellipse cx="989" cy="1656" rx="22" ry="7" fill-opacity=".65"/><ellipse cx="1045" cy="1656" rx="26" ry="11" fill-opacity="1"/><ellipse cx="1097" cy="1656" rx="26" ry="11" fill-opacity="1"/><ellipse cx="1150" cy="1658" rx="24" ry="9" fill-opacity=".9"/><ellipse cx="1207" cy="1656" rx="26" ry="11" fill-opacity="1"/><ellipse cx="1258" cy="1656" rx="24" ry="9" fill-opacity=".9"/><ellipse cx="1310" cy="1654" rx="24" ry="9" fill-opacity=".9"/>
</g>
<g fill="none" stroke="#000" stroke-width="3.5">
<rect x="913.5" y="1270.5" width="427" height="41"/>
<rect x="913.5" y="1324.5" width="427" height="48"/>
<rect x="913.5" y="1385.5" width="427" height="51"/>
<rect x="913.5" y="1449.5" width="427" height="50"/>
<rect x="913.5" y="1512.5" width="427" height="51"/>
<rect x="913.5" y="1575.5" width="427" height="47"/>
<rect x="913.5" y="1635.5" width="427" height="47"/>
</g>
<g font-size="28">
<text x="758" y="1302">p-ACC<tspan font-size="19" dy="-9">Ser79</tspan></text>
<text x="788" y="1368">ACC</text>
<text x="758" y="1426">p-HSL<tspan font-size="19" dy="-9">Ser660</tspan></text>
<text x="790" y="1491">HSL</text>
<text x="758" y="1552">p-AKT<tspan font-size="19" dy="-9">Ser473</tspan></text>
<text x="788" y="1611">AKT</text>
<text x="775" y="1670">β-Actin</text>
<text x="1374" y="1302">280</text>
<text x="1374" y="1364">280</text>
<text x="1374" y="1426">81</text>
<text x="1374" y="1488">81</text>
<text x="1374" y="1549">62</text>
<text x="1374" y="1609">62</text>
<text x="1374" y="1670">42</text>
</g>
<g fill="#000">
<path d="M1352,1291 L1366,1283 L1366,1299Z"/>
<path d="M1352,1353 L1366,1345 L1366,1361Z"/>
<path d="M1352,1413 L1366,1405 L1366,1421Z"/>
<path d="M1352,1476 L1366,1468 L1366,1484Z"/>
<path d="M1352,1536 L1366,1528 L1366,1544Z"/>
<path d="M1352,1598 L1366,1590 L1366,1606Z"/>
<path d="M1352,1659 L1366,1651 L1366,1667Z"/>
</g>

<!-- ============ PANEL G chart ============ -->
<use href="#tri" x="1562" y="1262" fill="#7a1aa0"/>
<use href="#ci" x="1562" y="1310" fill="#0a10bf"/>
<rect x="1745" y="1253" width="15" height="15" fill="#ff0000"/>
<use href="#itri" x="1752" y="1310" fill="#ff6a10"/>
<g font-size="28"><text x="1588" y="1275">NCD</text><text x="1591" y="1320">PBS</text><text x="1777" y="1275">Kyn</text><text x="1777" y="1320">Kyn+TCZ</text></g>
<text transform="translate(1447,1461) rotate(-90)" text-anchor="middle" font-size="29" style="white-space:pre">Relative protein  expression</text>
<g font-size="28" text-anchor="end"><text x="1504" y="1336">1.5</text><text x="1504" y="1430">1.0</text><text x="1504" y="1525">0.5</text><text x="1495" y="1619">0</text></g>
<rect class="bar" x="1520" y="1420.3" width="21" height="188.7"/>
<rect class="bar" x="1552" y="1484.5" width="21" height="124.5"/>
<rect class="bar" x="1584.5" y="1576.9" width="21" height="32.1"/>
<rect class="bar" x="1617" y="1552.4" width="21" height="56.6"/>
<rect class="bar" x="1676" y="1420.3" width="22" height="188.7"/>
<rect class="bar" x="1708" y="1548.6" width="22" height="60.4"/>
<rect class="bar" x="1740" y="1567.5" width="22" height="41.5"/>
<rect class="bar" x="1773" y="1552.4" width="22" height="56.6"/>
<rect class="bar" x="1833" y="1420.3" width="21.5" height="188.7"/>
<rect class="bar" x="1865" y="1529.7" width="22" height="79.3"/>
<rect class="bar" x="1897" y="1558.1" width="22" height="50.9"/>
<rect class="bar" x="1930" y="1509" width="22" height="100"/>
<path class="ax" d="M1510.5,1326 V1609 H1962 M1499,1326H1510.5 M1499,1420.3H1510.5 M1499,1514.7H1510.5 M1499,1609H1510.5 M1579,1609V1621 M1735,1609V1621 M1892,1609V1621"/>
<g fill="#7a1aa0"><use href="#tri" x="1530" y="1380"/><use href="#tri" x="1530" y="1402"/><use href="#tri" x="1530" y="1467"/>
<use href="#tri" x="1680" y="1375"/><use href="#tri" x="1690" y="1380"/><use href="#tri" x="1686" y="1432"/><use href="#tri" x="1686" y="1501"/>
<use href="#tri" x="1835" y="1427"/><use href="#tri" x="1843" y="1422"/><use href="#tri" x="1851" y="1414"/></g>
<g fill="#0a10bf"><use href="#ci" x="1562.5" y="1400"/><use href="#ci" x="1562.5" y="1470"/><use href="#ci" x="1562.5" y="1525"/><use href="#ci" x="1562.5" y="1539"/>
<use href="#ci" x="1712" y="1549"/><use href="#ci" x="1717" y="1543"/><use href="#ci" x="1727" y="1549"/>
<use href="#ci" x="1868" y="1542"/><use href="#ci" x="1876" y="1516"/><use href="#ci" x="1877" y="1530"/><use href="#ci" x="1885" y="1532"/></g>
<g fill="#ff0000"><use href="#sq" x="1588" y="1563"/><use href="#sq" x="1605" y="1574"/><use href="#sq" x="1598" y="1573"/><use href="#sq" x="1595" y="1589"/>
<use href="#sq" x="1745" y="1569"/><use href="#sq" x="1751" y="1561"/><use href="#sq" x="1760" y="1568"/>
<use href="#sq" x="1900" y="1564"/><use href="#sq" x="1907" y="1554"/><use href="#sq" x="1917" y="1558"/><use href="#sq" x="1900" y="1553"/></g>
<g fill="#ff6a10"><use href="#itri" x="1619" y="1543"/><use href="#itri" x="1634" y="1543"/><use href="#itri" x="1627" y="1553"/><use href="#itri" x="1627" y="1568"/>
<use href="#itri" x="1778" y="1544"/><use href="#itri" x="1791" y="1549"/><use href="#itri" x="1784" y="1564"/>
<use href="#itri" x="1941" y="1439"/><use href="#itri" x="1935" y="1531"/><use href="#itri" x="1946" y="1531"/><use href="#itri" x="1941" y="1524"/></g>
<path class="eb" stroke="#7a1aa0" d="M1530,1404V1441M1524,1404H1536M1524,1441H1536 M1686,1392V1450M1680,1392H1692M1680,1450H1692"/>
<path class="eb" stroke="#0a10bf" d="M1562.5,1451V1516M1557,1451H1568M1557,1516H1568"/>
<path class="eb" stroke="#ff6a10" d="M1940,1484V1529M1934,1484H1946"/>
<g font-size="21.5">
<text x="1530" y="1360"><tspan font-style="italic">p</tspan>=0.0302</text>
<text x="1583" y="1496"><tspan font-style="italic">p</tspan>=0.0134</text>
<text x="1708" y="1458"><tspan font-style="italic">p</tspan>=0.0002</text>
<text x="1740" y="1506"><tspan font-style="italic">p</tspan>=0.036</text>
<text x="1859" y="1358"><tspan font-style="italic">p</tspan>=0.0053</text>
<text x="1881" y="1399"><tspan font-style="italic">p</tspan>=0.0222</text>
</g>
<path class="sl" d="M1552,1384H1604 M1589,1518.5H1640 M1714,1480H1765 M1750,1527H1800 M1860,1379H1911 M1902,1423H1952"/>
<g font-size="28" text-anchor="end">
<text transform="translate(1621,1639) rotate(-28)">p-ACC<tspan font-size="19" dy="-10">Ser79</tspan><tspan dy="10">/ACC</tspan></text>
<text transform="translate(1769,1629) rotate(-28)">p-HSL <tspan font-size="19" dy="-10">Ser660</tspan><tspan dy="10">/HSL</tspan></text>
<text transform="translate(1911,1631) rotate(-28)">p-AKT<tspan font-size="19" dy="-10">Ser473</tspan><tspan dy="10">/AKT</tspan></text>
</g>
</svg>
</body></html>
